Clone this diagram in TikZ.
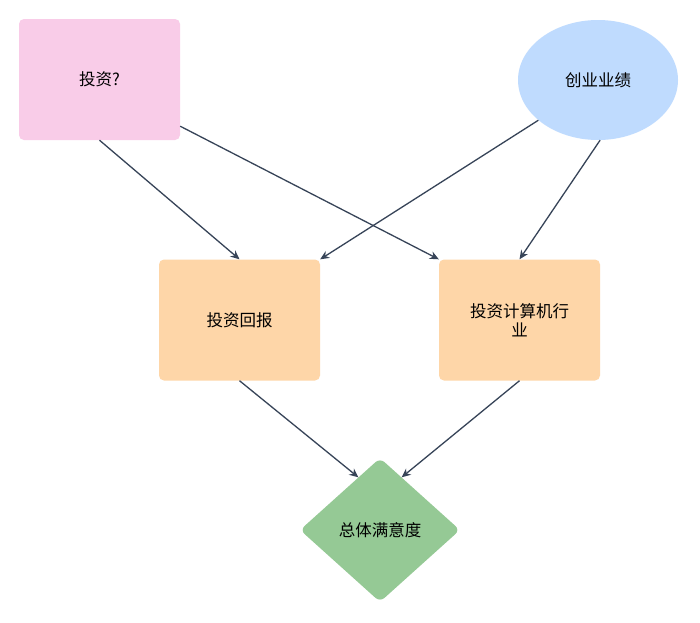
\documentclass[tikz,border=0pt]{standalone}
\usepackage{fontspec}
\setmainfont{Noto Sans CJK SC}
\usetikzlibrary{shapes.geometric,calc,arrows.meta}
\definecolor{pinkc}{RGB}{249,204,232}
\definecolor{bluec}{RGB}{191,219,254}
\definecolor{orangec}{RGB}{254,214,168}
\definecolor{greenc}{RGB}{149,201,149}
\definecolor{linec}{RGB}{55,68,88}
\begin{document}
\begin{tikzpicture}[x=1pt,y=-1pt,
  box/.style={rectangle,rounded corners=5pt,minimum width=161pt,minimum height=121pt,inner sep=2pt,text width=115pt,align=center,font=\fontsize{16.5}{19}\selectfont},
  conn/.style={draw=linec,line width=1.3pt,-{Stealth[length=9pt,width=8pt]}}]
\useasboundingbox (0,0) rectangle (700,622);
\fill[white] (0,0) rectangle (700,622);
\node[box,fill=pinkc] (a) at (99.5,79.5) {投资?};
\node[ellipse,fill=bluec,minimum width=160pt,minimum height=120pt,font=\fontsize{16.5}{19}\selectfont] (b) at (598,80) {创业业绩};
\node[box,fill=orangec] (c) at (239.5,320) {投资回报};
\node[box,fill=orangec] (e) at (519.5,320) {投资计算机行\\业};
\node[diamond,fill=greenc,rounded corners=6pt,minimum width=160pt,minimum height=144pt,inner sep=0pt,font=\fontsize{16.5}{19}\selectfont] (d) at (380,530) {};
\node[font=\fontsize{16.5}{19}\selectfont] (dt) at (d.center) {总体满意度};
\draw[conn] (a.south) -- (c.north);
\draw[conn] ($(a.south east)+(0,-14)$) -- (e.north west);
\draw[conn] (b.-146) -- (c.north east);
\draw[conn] (b.-88) -- (e.north);
\draw[conn] (c.south) -- ($(d.north)!0.27!(d.west)$);
\draw[conn] (e.south) -- ($(d.north)!0.27!(d.east)$);
\end{tikzpicture}
\end{document}
